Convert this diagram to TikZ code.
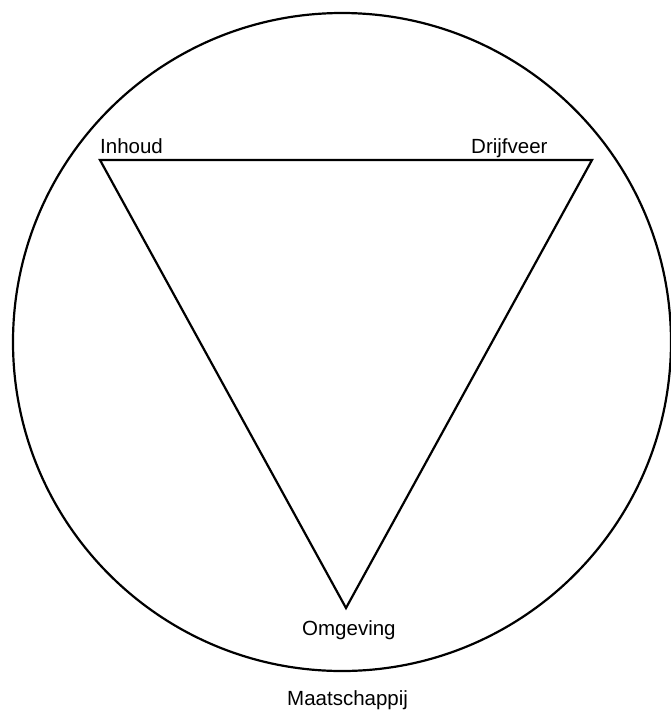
\documentclass[tikz,border=0pt]{standalone}
\usepackage{fontspec}
\setmainfont{Liberation Sans}
\begin{document}
\begin{tikzpicture}[x=1pt,y=-1pt,
  shapeline/.style={line width=2.2pt, line join=miter},
  lbl/.style={anchor=base west, inner sep=0pt, font=\fontsize{20.5}{23}\selectfont}]
\useasboundingbox (0,0) rectangle (671,710);
\draw[shapeline] (342,342) circle[radius=329];
\coordinate (inh) at (100,160);
\coordinate (drf) at (592,160);
\coordinate (omg) at (346,608);
\draw[shapeline] (inh) -- (drf) -- (omg) -- cycle;
\node[lbl] (tinh) at (100,153) {Inhoud};
\node[lbl] (tdrf) at (471,153) {Drijfveer};
\node[lbl] (tomg) at (302,635) {Omgeving};
\node[lbl] (tmaa) at (287,705) {Maatschappij};
\end{tikzpicture}
\end{document}
